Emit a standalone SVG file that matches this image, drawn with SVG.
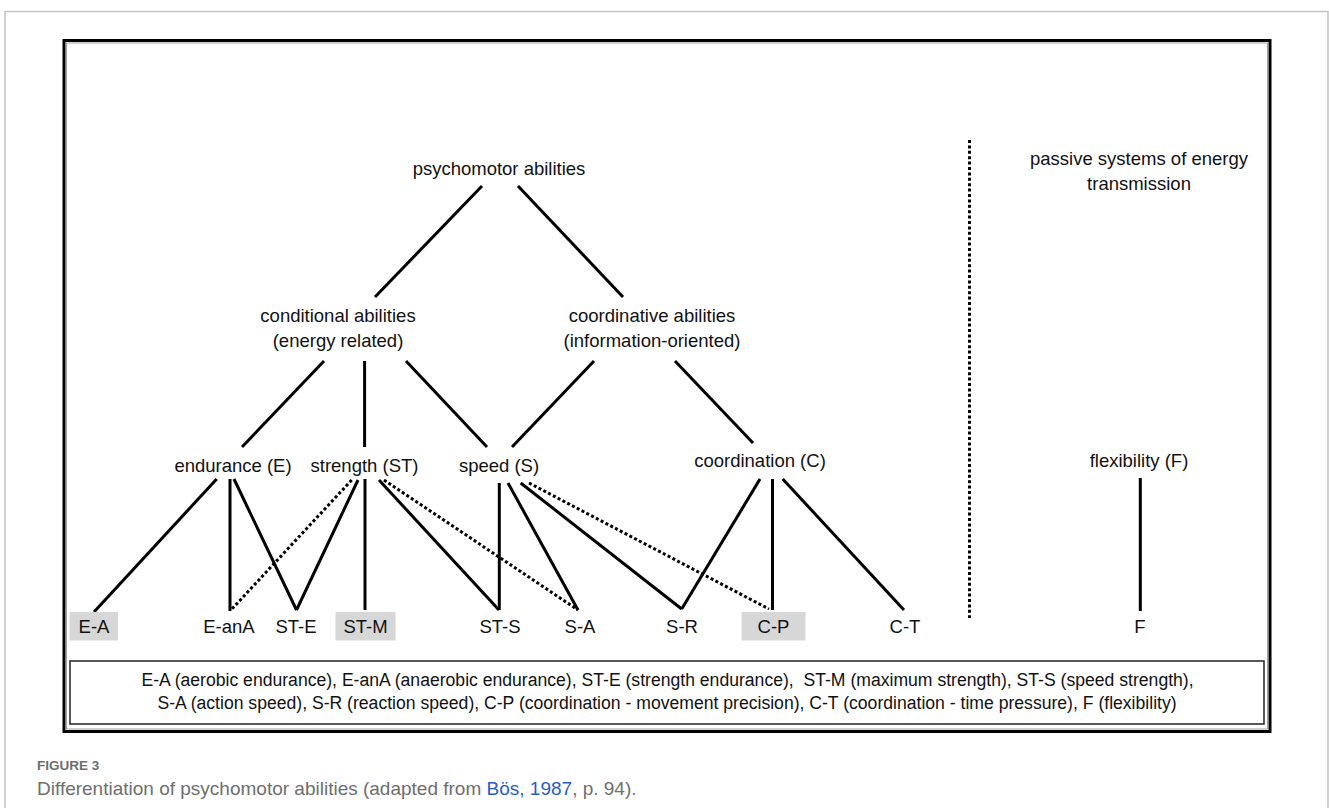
<svg xmlns="http://www.w3.org/2000/svg" width="1329" height="808" viewBox="0 0 1329 808">
<style>
.t{font-family:"Liberation Sans",Arial,sans-serif;font-size:18.5px;fill:#111;text-anchor:middle}
.lg{font-family:"Liberation Sans",Arial,sans-serif;font-size:17.6px;fill:#111;text-anchor:middle;white-space:pre}
.s{stroke:#000;stroke-width:3;fill:none}
.d{stroke:#000;stroke-width:3;fill:none;stroke-dasharray:3 2.4}
.box{fill:#d7d7d7}
.cap{font-family:"Liberation Sans",Arial,sans-serif;fill:#6e6e6e}
</style>
<rect width="1329" height="808" fill="#fff"/>
<path d="M5,808 V11.5 H1328 V808" fill="none" stroke="#c2c2c2" stroke-width="1.5"/>
<g id="frame">
<rect x="64" y="40.5" width="1206" height="691" fill="none" stroke="#000" stroke-width="3"/>
<rect x="66.5" y="43" width="1201" height="686" fill="none" stroke="#8a8a8a" stroke-width="0.8"/>
</g>
<g id="connectors">
<line class="s" x1="482" y1="186" x2="375" y2="297"/>
<line class="s" x1="518" y1="186" x2="623" y2="297"/>
<line class="s" x1="324" y1="361" x2="242" y2="447"/>
<line class="s" x1="364.6" y1="361" x2="364.6" y2="447"/>
<line class="s" x1="406" y1="361" x2="487" y2="447"/>
<line class="s" x1="594" y1="361" x2="512" y2="447"/>
<line class="s" x1="675" y1="361" x2="753" y2="443"/>
<line class="s" x1="216.7" y1="479" x2="94" y2="612"/>
<line class="s" x1="230" y1="479" x2="230" y2="611"/>
<line class="s" x1="234" y1="479" x2="296.5" y2="610"/>
<line class="s" x1="358" y1="480" x2="296.5" y2="610"/>
<line class="d" x1="351.7" y1="480" x2="231" y2="610"/>
<line class="s" x1="365" y1="479" x2="365" y2="610"/>
<line class="s" x1="379" y1="480" x2="499" y2="610"/>
<line class="d" x1="384" y1="480" x2="578" y2="610"/>
<line class="s" x1="499.3" y1="483" x2="499.3" y2="610"/>
<line class="s" x1="508" y1="483" x2="578" y2="610"/>
<line class="s" x1="520.7" y1="483" x2="681.7" y2="609"/>
<line class="d" x1="529" y1="483" x2="769" y2="609"/>
<line class="s" x1="760" y1="479" x2="681.7" y2="609"/>
<line class="s" x1="772.5" y1="479" x2="772.5" y2="610"/>
<line class="s" x1="782.7" y1="479" x2="904" y2="610"/>
<line class="s" x1="1140.3" y1="478" x2="1140.3" y2="611"/>
<line class="d" x1="969.5" y1="140" x2="969.5" y2="618"/>
</g>
<g id="n-psychomotor"><text class="t" x="499" y="174.5">psychomotor abilities</text></g>
<g id="n-conditional"><text class="t" x="338" y="321.5">conditional abilities</text><text class="t" x="338" y="346.5">(energy related)</text></g>
<g id="n-coordinative"><text class="t" x="652" y="321.5">coordinative abilities</text><text class="t" x="652" y="346.5">(information-oriented)</text></g>
<g id="n-passive"><text class="t" x="1139" y="164.5">passive systems of energy</text><text class="t" x="1139" y="189.5">transmission</text></g>
<g id="n-endurance"><text class="t" x="233" y="471.5">endurance (E)</text></g>
<g id="n-strength"><text class="t" x="364.5" y="471.5">strength (ST)</text></g>
<g id="n-speed"><text class="t" x="499" y="471.5">speed (S)</text></g>
<g id="n-coordination"><text class="t" x="760" y="466.5">coordination (C)</text></g>
<g id="n-flexibility"><text class="t" x="1139" y="466.5">flexibility (F)</text></g>
<g id="n-EA"><rect class="box" x="69.5" y="612" width="48.5" height="28.5"/><text class="t" x="94" y="632.5">E-A</text></g>
<g id="n-EanA"><text class="t" x="229" y="632.5">E-anA</text></g>
<g id="n-STE"><text class="t" x="296" y="632.5">ST-E</text></g>
<g id="n-STM"><rect class="box" x="335.5" y="612" width="60" height="28.5"/><text class="t" x="365.5" y="632.5">ST-M</text></g>
<g id="n-STS"><text class="t" x="500" y="632.5">ST-S</text></g>
<g id="n-SA"><text class="t" x="580" y="632.5">S-A</text></g>
<g id="n-SR"><text class="t" x="682" y="632.5">S-R</text></g>
<g id="n-CP"><rect class="box" x="741.5" y="612" width="64" height="28.5"/><text class="t" x="773.5" y="632.5">C-P</text></g>
<g id="n-CT"><text class="t" x="905" y="632.5">C-T</text></g>
<g id="n-F"><text class="t" x="1140" y="632.5">F</text></g>
<g id="legend">
<rect x="70" y="661" width="1194" height="63" fill="none" stroke="#222" stroke-width="1.5"/>
<text class="lg" x="667.5" y="686">E-A (aerobic endurance), E-anA (anaerobic endurance), ST-E (strength endurance),  ST-M (maximum strength), ST-S (speed strength),</text>
<text class="lg" x="667" y="709">S-A (action speed), S-R (reaction speed), C-P (coordination - movement precision), C-T (coordination - time pressure), F (flexibility)</text>
</g>
<g id="caption">
<text class="cap" x="37" y="770" font-size="13.5" font-weight="bold" fill="#666">FIGURE 3</text>
<text class="cap" x="37" y="794.5" font-size="19">Differentiation of psychomotor abilities (adapted from <tspan fill="#2a5bc8">Bös, 1987</tspan>, p. 94).</text>
</g>
</svg>
